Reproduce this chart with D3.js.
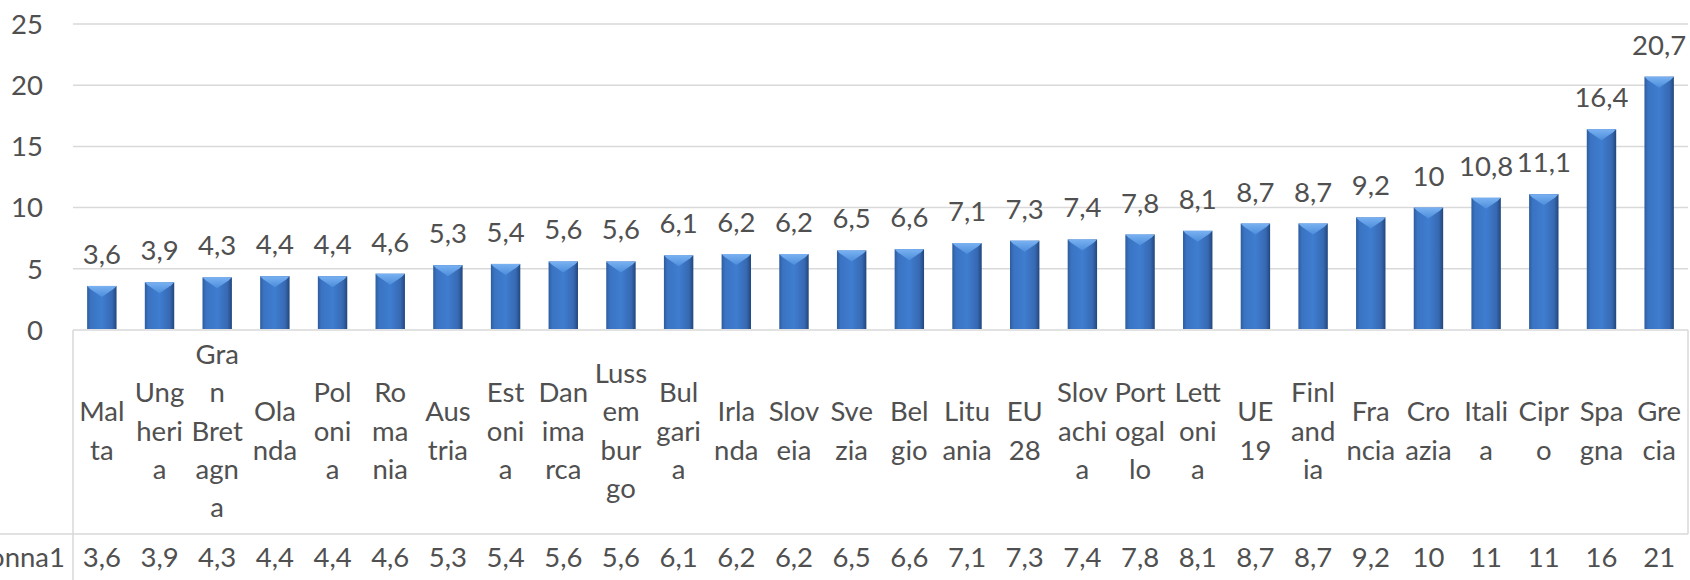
<!DOCTYPE html>
<html>
<head>
<meta charset="utf-8">
<script src="https://cdn.jsdelivr.net/npm/d3@7"></script>
<style>
    html, body { margin: 0; padding: 0; background: #fff; overflow: hidden; }
    text { font-family: Lato, "Open Sans", sans-serif; fill: #505050; }
</style>
</head>
<body>
<div id="chart"></div>
<script>
// categorie (già spezzate come nella tabella dati di Excel)
const categories = ['Malta', 'Ungheria', 'Gran Bretagna', 'Olanda', 'Polonia', 'Romania', 'Austria',
    'Estonia', 'Danimarca', 'Lussemburgo', 'Bulgaria', 'Irlanda', 'Sloveia', 'Svezia', 'Belgio',
    'Lituania', 'EU 28', 'Slovachia', 'Portogallo', 'Lettonia', 'UE 19', 'Finlandia', 'Francia',
    'Croazia', 'Italia', 'Cipro', 'Spagna', 'Grecia'];
const categoryLines = [['Mal', 'ta'], ['Ung', 'heri', 'a'], ['Gra', 'n', 'Bret', 'agn', 'a'], ['Ola', 'nda'],
    ['Pol', 'oni', 'a'], ['Ro', 'ma', 'nia'], ['Aus', 'tria'], ['Est', 'oni', 'a'], ['Dan', 'ima', 'rca'],
    ['Luss', 'em', 'bur', 'go'], ['Bul', 'gari', 'a'], ['Irla', 'nda'], ['Slov', 'eia'], ['Sve', 'zia'],
    ['Bel', 'gio'], ['Litu', 'ania'], ['EU', '28'], ['Slov', 'achi', 'a'], ['Port', 'ogal', 'lo'],
    ['Lett', 'oni', 'a'], ['UE', '19'], ['Finl', 'and', 'ia'], ['Fra', 'ncia'], ['Cro', 'azia'],
    ['Itali', 'a'], ['Cipr', 'o'], ['Spa', 'gna'], ['Gre', 'cia']];
const values = [3.6, 3.9, 4.3, 4.4, 4.4, 4.6, 5.3, 5.4, 5.6, 5.6, 6.1, 6.2, 6.2, 6.5, 6.6,
    7.1, 7.3, 7.4, 7.8, 8.1, 8.7, 8.7, 9.2, 10, 10.8, 11.1, 16.4, 20.7];
// valori come appaiono nella riga della tabella
const tableLabels = ['3,6', '3,9', '4,3', '4,4', '4,4', '4,6', '5,3', '5,4', '5,6', '5,6', '6,1', '6,2',
    '6,2', '6,5', '6,6', '7,1', '7,3', '7,4', '7,8', '8,1', '8,7', '8,7', '9,2', '10', '11', '11', '16', '21'];
const seriesName = 'Colonna1';
const yTicks = [0, 5, 10, 15, 20, 25];

const width = 1690, height = 580;
const plot = { left: 73, right: 1688, top: 24, bottom: 330 };
const table = { rowTop: 330, rowLine: 534, bottom: 580 };
const lineStep = 38.3;
const fontSize = 27.5;
const gridColor = '#d9d9d9';

const it = d3.formatLocale({ decimal: ',', thousands: '.', grouping: [3], currency: ['€', ''] });
const fmt = it.format('.1~f');

const svg = d3.select('#chart')
    .append('svg')
    .attr('width', width)
    .attr('height', height);

const defs = svg.append('defs');
const barGrad = defs.append('linearGradient')
    .attr('id', 'barGrad')
    .attr('x1', 0).attr('x2', 1).attr('y1', 0).attr('y2', 0);
[[0, '#2d5c9c'], [0.12, '#3a73c2'], [0.5, '#3f7dd0'], [0.85, '#3769b2'], [1, '#22467c']]
    .forEach(([o, c]) => barGrad.append('stop').attr('offset', o).attr('stop-color', c));
const bevelGrad = defs.append('linearGradient')
    .attr('id', 'bevelGrad')
    .attr('x1', 0).attr('x2', 0).attr('y1', 0).attr('y2', 1);
[[0, '#7ab2f2'], [1, '#4c8ddb']]
    .forEach(([o, c]) => bevelGrad.append('stop').attr('offset', o).attr('stop-color', c));

const x = d3.scaleBand()
    .domain(categories)
    .range([plot.left, plot.right])
    .paddingInner(0.49)
    .paddingOuter(0.245);

const y = d3.scaleLinear()
    .domain([0, 25])
    .range([plot.bottom, plot.top]);

// griglia
svg.append('g')
    .selectAll('line')
    .data(yTicks)
    .join('line')
    .attr('x1', plot.left)
    .attr('x2', plot.right)
    .attr('y1', d => y(d))
    .attr('y2', d => y(d))
    .attr('stroke', gridColor)
    .attr('stroke-width', 1.5);

// etichette asse y
svg.append('g')
    .selectAll('text')
    .data(yTicks)
    .join('text')
    .attr('x', 43)
    .attr('y', d => y(d) + 9.8)
    .attr('text-anchor', 'end')
    .style('font-size', fontSize + 'px')
    .text(d => d);

// barre
const bars = svg.append('g')
    .selectAll('g')
    .data(categories)
    .join('g');

bars.append('rect')
    .attr('x', d => x(d))
    .attr('y', (d, i) => y(values[i]))
    .attr('width', x.bandwidth())
    .attr('height', (d, i) => y(0) - y(values[i]) - 1)
    .attr('fill', 'url(#barGrad)');

bars.append('polygon')
    .attr('points', (d, i) => {
        const x0 = x(d), x1 = x(d) + x.bandwidth(), t = y(values[i]);
        return `${x0},${t} ${x1},${t} ${x1 - 3},${t + 3} ${(x0 + x1) / 2},${t + 11} ${x0 + 3},${t + 3}`;
    })
    .attr('fill', 'url(#bevelGrad)');

// etichette dati
svg.append('g')
    .selectAll('text')
    .data(categories)
    .join('text')
    .attr('x', d => x(d) + x.bandwidth() / 2)
    .attr('y', (d, i) => y(values[i]) - 22)
    .attr('text-anchor', 'middle')
    .style('font-size', fontSize + 'px')
    .text((d, i) => fmt(values[i]));

// tabella dati
const grid = svg.append('g')
    .attr('stroke', gridColor)
    .attr('stroke-width', 1.5);
grid.append('line')
    .attr('x1', 0).attr('x2', plot.right)
    .attr('y1', table.rowLine).attr('y2', table.rowLine);
grid.append('line')
    .attr('x1', plot.left).attr('x2', plot.left)
    .attr('y1', table.rowTop).attr('y2', table.bottom);
grid.append('line')
    .attr('x1', plot.right).attr('x2', plot.right)
    .attr('y1', table.rowTop).attr('y2', table.rowLine);

const midBaseline = (table.rowTop + table.rowLine) / 2 + 8.5;
const catText = svg.append('g')
    .selectAll('text')
    .data(categories)
    .join('text')
    .attr('text-anchor', 'middle')
    .style('font-size', fontSize + 'px');
catText.each(function (d, i) {
    const lines = categoryLines[i];
    const n = lines.length;
    d3.select(this)
        .selectAll('tspan')
        .data(lines)
        .join('tspan')
        .attr('x', x(d) + x.bandwidth() / 2)
        .attr('y', (l, j) => midBaseline + (j - (n - 1) / 2) * lineStep)
        .text(l => l);
});

svg.append('text')
    .attr('x', 65)
    .attr('y', 567)
    .attr('text-anchor', 'end')
    .style('font-size', fontSize + 'px')
    .text(seriesName);

svg.append('g')
    .selectAll('text')
    .data(categories)
    .join('text')
    .attr('x', d => x(d) + x.bandwidth() / 2)
    .attr('y', 567)
    .attr('text-anchor', 'middle')
    .style('font-size', fontSize + 'px')
    .text((d, i) => tableLabels[i]);
</script>
</body>
</html>
